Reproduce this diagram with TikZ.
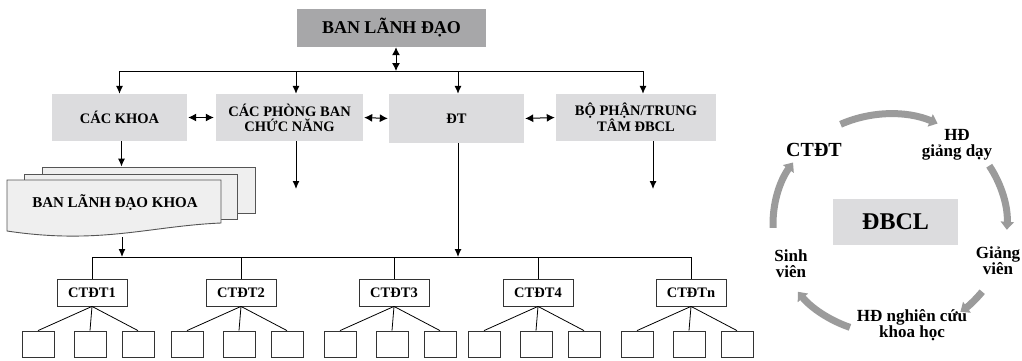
\documentclass[tikz,border=0pt]{standalone}
\usepackage{fontspec}
\setmainfont{Liberation Serif}
\usetikzlibrary{arrows.meta, calc}
\definecolor{leadgray}{HTML}{A7A7A9}
\definecolor{unitgray}{HTML}{DCDCDE}
\definecolor{pagegray}{HTML}{EFEFEF}
\definecolor{pageline}{HTML}{555555}
\definecolor{cyclegray}{HTML}{9B9B9B}

\begin{document}
\begin{tikzpicture}[x=1pt, y=-1pt,
    box/.style={inner sep=0pt, align=center, font=\bfseries\fontsize{14.5}{15}\selectfont},
    lead/.style={box, fill=leadgray, minimum width=189pt, minimum height=38pt, font=\bfseries\fontsize{18}{20}\selectfont},
    unit/.style={box, fill=unitgray, minimum height=47pt},
    page/.style={draw=pageline, fill=pagegray, line width=0.9pt, minimum width=213pt, inner sep=0pt},
    prog/.style={box, draw=black!80, line width=0.8pt, minimum width=70pt, minimum height=27pt, font=\bfseries\fontsize{14.5}{16}\selectfont},
    leaf/.style={draw=black!80, line width=0.8pt, minimum width=32pt, minimum height=26pt, inner sep=0pt},
    lien/.style={line width=1pt},
    fleche/.style={lien, -{Latex[length=8pt,width=7pt]}},
    fleches/.style={lien, {Latex[length=8pt,width=8pt]}-{Latex[length=8pt,width=8pt]}},
    cycarr/.style={draw=cyclegray, line width=7pt, -{Triangle[length=8pt,width=13pt]}},
    lbl/.style={align=center, inner sep=0pt, font=\bfseries\fontsize{17}{16}\selectfont}
]
    \useasboundingbox (0,0) rectangle (1022,360);

    % Niveaux de lignes
    \coordinate (top) at (0,71);
    \coordinate (bus) at (0,257);

    % Direction et unites
    \node[lead] (lead) at (391.5,28) {BAN LÃNH ĐẠO};
    \node[unit, minimum width=135pt] (khoa) at (119.5,117.5) {CÁC KHOA};
    \node[unit, minimum width=147pt] (pb) at (289.5,117.5) {CÁC PHÒNG BAN\\CHỨC NĂNG};
    \node[unit, minimum width=135pt, minimum height=49pt] (dt) at (456.5,118.5) {ĐT};
    \node[unit, minimum width=160pt] (bp) at (636,117.5) {BỘ PHẬN/TRUNG\\TÂM ĐBCL};

    % Liaisons du haut
    \draw[fleches] ([xshift=4.5pt]lead.south) -- ([xshift=4.5pt]lead.south |- top);
    \draw[lien] (khoa.north |- top) -- ([xshift=7pt]bp.north |- top);
    \draw[fleche] (khoa.north |- top) -- (khoa.north);
    \draw[fleche] ([xshift=6.5pt]pb.north |- top) -- ([xshift=6.5pt]pb.north);
    \draw[fleche] ([xshift=1.5pt]dt.north |- top) -- ([xshift=1.5pt]dt.north);
    \draw[fleche] ([xshift=7pt]bp.north |- top) -- ([xshift=7pt]bp.north);
    \draw[fleches, shorten <=1pt, shorten >=2pt] (khoa.east) -- (pb.west);
    \draw[fleches, shorten <=1pt, shorten >=1pt] (pb.east) -- (dt.west);
    \draw[fleches, shorten <=1pt, shorten >=1pt] (dt.east) -- (bp.west);

    % Fleches libres
    \coordinate (pbend) at (296,189);
    \coordinate (bpend) at (653,189);
    \draw[fleche] (pb.south -| pbend) -- (pbend);
    \draw[fleche] (bp.south -| bpend) -- (bpend);

    % Ban lanh dao khoa (pile de documents)
    \node[page, minimum height=46pt] (page3) at (148.5,190) {};
    \node[page, minimum height=45pt] (page2) at (131,196.5) {};
    \draw[draw=pageline, fill=pagegray, line width=0.9pt]
        (7,180) -- (221,180) -- (221,223) .. controls (150,226) and (100,245) .. (7,231) -- cycle;
    \node[box, font=\bfseries\fontsize{15}{16}\selectfont] (bldk) at (115,203) {BAN LÃNH ĐẠO KHOA};
    \draw[fleche] ([xshift=2pt]khoa.south) -- ([xshift=2pt]khoa.south |- page3.north);
    \coordinate (bldkbas) at (122,237);
    \draw[fleche] (bldkbas) -- (bldkbas |- bus);
    \draw[fleche] ([xshift=1.5pt]dt.south) -- ([xshift=1.5pt]dt.south |- bus);

    % Programmes et feuilles
    \foreach \nom/\txt/\d in {p1/CTĐT1/94, p2/CTĐT2/243, p3/CTĐT3/396, p4/CTĐT4/540, pn/CTĐTn/693} {
        \node[prog] (\nom) at (\d-2,292.5) {\txt};
        \draw[lien] (\nom.north) -- (\nom.north |- bus);
        \foreach \k/\off in {a/-56, b/-4, c/44} {
            \node[leaf] (\nom\k) at (\d+\off,344) {};
            \draw[line width=0.8pt] (\nom.south) -- (\nom\k.north);
        }
    }
    \draw[lien] (p1.north |- bus) -- (pn.north |- bus);

    % Cycle de l'assurance qualite
    \coordinate (cyc) at (890,224);
    \foreach \a/\b in {115/66, 32/-3, -38/-53, -110/-142, 182/146}
        \draw[cycarr] ($(cyc)+(\a:117pt and 110pt)$) arc[start angle=\a, end angle=\b, x radius=117pt, y radius=110pt];

    \node[unit, minimum width=125pt, minimum height=46pt, font=\bfseries\fontsize{24}{26}\selectfont] (dbcl) at (895.5,222) {ĐBCL};
    \node[lbl, font=\bfseries\fontsize{20}{22}\selectfont] (lctdt) at (814,150) {CTĐT};
    \node[lbl] (lhd) at (957,145) {HĐ\\giảng dạy};
    \node[lbl] (lgv) at (998,261) {Giảng\\viên};
    \node[lbl] (lnc) at (912,325) {HĐ nghiên cứu\\khoa học};
    \node[lbl] (lsv) at (791,264) {Sinh\\viên};

\end{tikzpicture}
\end{document}
